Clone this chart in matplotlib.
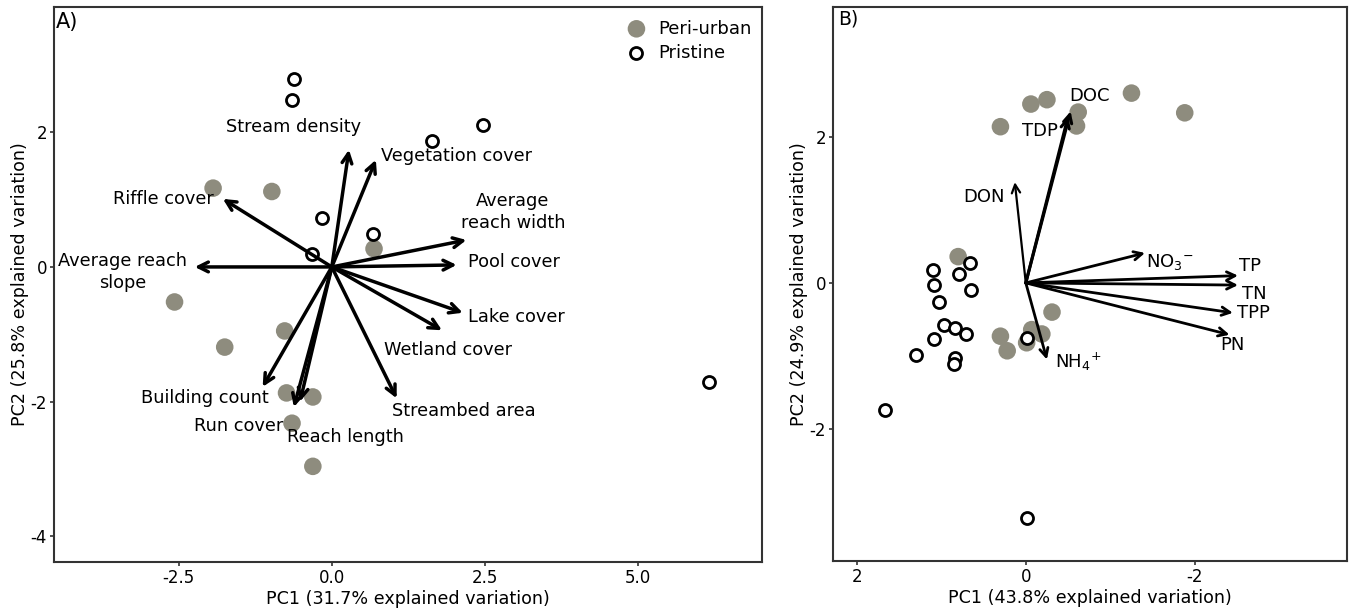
import numpy as np
import matplotlib
matplotlib.use('Agg')
import matplotlib.pyplot as plt

plt.rcParams['font.family'] = ['DejaVu Sans']
plt.rcParams['mathtext.default'] = 'regular'
plt.rcParams['axes.unicode_minus'] = False

# ---- Panel A: site scores ----
a_peri_x = [-1.94, -0.98, 0.69, -2.57, -0.77, -1.75, -0.74, -0.31, -0.65, -0.31]
a_peri_y = [1.17, 1.12, 0.27, -0.52, -0.95, -1.19, -1.87, -1.93, -2.32, -2.96]
a_pris_x = [-0.62, -0.65, 1.63, 2.47, -0.16, 0.67, -0.33, 6.16]
a_pris_y = [2.79, 2.48, 1.87, 2.11, 0.73, 0.49, 0.19, -1.71]

# ---- Panel A: loadings ----
a_vars = ['Stream density', 'Vegetation cover', 'Riffle cover', 'Average reach\nslope',
          'Average\nreach width', 'Pool cover', 'Lake cover', 'Wetland cover',
          'Streambed area', 'Building count', 'Run cover', 'Reach length']
a_load_x = [0.28, 0.72, -1.78, -2.24, 2.20, 2.04, 2.14, 1.80, 1.06, -1.13, -0.62, -0.52]
a_load_y = [1.74, 1.59, 1.01, 0.0, 0.40, 0.03, -0.68, -0.94, -1.95, -1.78, -2.08, -2.00]
a_lab_x = [-0.62, 2.04, -2.76, -3.42, 2.96, 2.98, 3.02, 1.90, 2.16, -2.08, -1.52, 0.23]
a_lab_y = [2.08, 1.65, 1.01, -0.07, 0.82, 0.07, -0.74, -1.23, -2.14, -1.95, -2.36, -2.53]

# ---- Panel B: site scores ----
b_peri_x = [0.30, -0.06, -0.25, -0.62, -0.60, -1.25, -1.88, 0.80, -0.31, 0.30, 0.22, -0.07, -0.19, -0.01]
b_peri_y = [2.14, 2.45, 2.51, 2.34, 2.15, 2.60, 2.33, 0.36, -0.40, -0.73, -0.93, -0.64, -0.70, -0.82]
b_pris_x = [0.66, 1.10, 0.79, 1.09, 0.65, 1.03, 0.97, 0.84, 0.71, 1.08, 1.30, 0.84, 0.85, -0.02, 1.66, -0.01]
b_pris_y = [0.27, 0.18, 0.12, -0.03, -0.10, -0.26, -0.58, -0.62, -0.70, -0.77, -0.99, -1.03, -1.11, -0.76, -1.74, -3.22]

# ---- Panel B: loadings ----
b_vars = ['DOC', 'TDP', 'DON', 'NO$_3$$^{-}$', 'TP', 'TN', 'TPP', 'PN', 'NH$_4$$^{+}$']
b_load_x = [-0.53, -0.50, 0.13, -1.41, -2.51, -2.51, -2.45, -2.41, -0.25]
b_load_y = [2.35, 2.28, 1.38, 0.41, 0.10, -0.03, -0.41, -0.71, -1.05]
b_lab_x = [-0.75, -0.17, 0.49, -1.70, -2.65, -2.70, -2.69, -2.44, -0.62]
b_lab_y = [2.56, 2.08, 1.18, 0.29, 0.23, -0.15, -0.41, -0.85, -1.08]
b_lw = [2.2, 2.2, 1.6, 2.0, 2.0, 2.0, 2.0, 2.0, 2.0]

grey = '#8e8c7e'

fig = plt.figure(figsize=(13.53, 6.12), dpi=100)
axA = fig.add_axes([0.0399, 0.0817, 0.5233, 0.907])
axB = fig.add_axes([0.6157, 0.0833, 0.3799, 0.9053])


def style_axis(ax):
    for s in ax.spines.values():
        s.set_color('#333333')
        s.set_linewidth(1.5)
    ax.tick_params(colors='#333333', labelcolor='black', labelsize=12, length=3,
                   width=1.2, pad=2)


def draw_arrows(ax, xs, ys, lws, hw=0.35, hl=0.7):
    for x, y, lw in zip(xs, ys, lws):
        ax.annotate('', xy=(x, y), xytext=(0, 0),
                    arrowprops=dict(arrowstyle='->,head_length=%s,head_width=%s' % (hl, hw),
                                    lw=lw, color='black', shrinkA=0, shrinkB=0))


# Panel A
axA.scatter(a_peri_x, a_peri_y, s=160, color=grey, edgecolors='none', zorder=3, label='Peri-urban')
axA.scatter(a_pris_x, a_pris_y, s=75, facecolors='white', edgecolors='black', linewidths=2,
            zorder=3, label='Pristine')
draw_arrows(axA, a_load_x, a_load_y, [2.5] * len(a_load_x))
for name, x, y in zip(a_vars, a_lab_x, a_lab_y):
    axA.text(x, y, name, ha='center', va='center', fontsize=12.8, linespacing=1.3, zorder=4)
axA.set_xlim(-4.54, 7.03)
axA.set_ylim(-4.38, 3.86)
axA.set_xticks([-2.5, 0.0, 2.5, 5.0])
axA.set_xticklabels(['-2.5', '0.0', '2.5', '5.0'])
axA.set_yticks([-4, -2, 0, 2])
axA.set_xlabel('PC1 (31.7% explained variation)', fontsize=12.6, labelpad=2)
axA.set_ylabel('PC2 (25.8% explained variation)', fontsize=12.6, labelpad=1)
axA.text(0.003, 0.99, 'A)', transform=axA.transAxes, fontsize=15, va='top', ha='left')
axA.legend(loc='upper right', frameon=False, fontsize=13, handletextpad=0.2,
           borderaxespad=0.3, labelspacing=0.35, bbox_to_anchor=(1.003, 1.0))
style_axis(axA)

# Panel B
axB.scatter(b_peri_x, b_peri_y, s=160, color=grey, edgecolors='none', zorder=3)
axB.scatter(b_pris_x, b_pris_y, s=75, facecolors='white', edgecolors='black', linewidths=2, zorder=3)
draw_arrows(axB, b_load_x, b_load_y, b_lw, hw=0.3, hl=0.6)
for name, x, y in zip(b_vars, b_lab_x, b_lab_y):
    axB.text(x, y, name, ha='center', va='center', fontsize=13, zorder=4)
axB.set_xlim(2.28, -3.80)
axB.set_ylim(-3.81, 3.78)
axB.set_xticks([2, 0, -2])
axB.set_yticks([-2, 0, 2])
axB.set_xlabel('PC1 (43.8% explained variation)', fontsize=12.6, labelpad=2)
axB.set_ylabel('PC2 (24.9% explained variation)', fontsize=12.6, labelpad=1)
axB.text(0.01, 0.995, 'B)', transform=axB.transAxes, fontsize=13.5, va='top', ha='left')
style_axis(axB)

fig.savefig('out.png', dpi=100)
